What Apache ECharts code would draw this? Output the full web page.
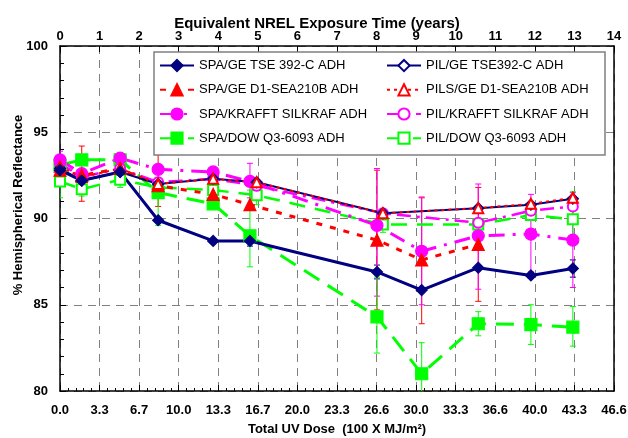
<!DOCTYPE html>
<html><head><meta charset="utf-8">
<script src="https://cdn.jsdelivr.net/npm/echarts@6/dist/echarts.min.js"></script>
<style>html,body{margin:0;padding:0;background:#fff}#c{width:628px;height:438px}</style>
</head><body><div id="c"></div>
<script>
// Exposure time in years (x positions)
const xSPA = [0, 0.55, 1.52, 2.48, 3.87, 4.80, 8.01, 9.14, 10.57, 11.90, 12.96];
const xPIL = [0, 0.55, 1.52, 2.48, 3.87, 4.97, 8.16, 10.57, 11.90, 12.96];
const topTickLabels = ['0','1','2','3','4','5','6','7','8','9','10','11','12','13','14'];
const bottomTickLabels = ['0.0','3.3','6.7','10.0','13.3','16.7','20.0','23.3','26.6','30.0','33.3','36.6','40.0','43.3','46.6'];

const spaGeTse  = [92.8, 92.2, 92.7, 89.9, 88.7, 88.7, 86.9, 85.85, 87.15, 86.7, 87.1];
const pilGeTse  = [92.9, 92.2, 92.7, 92.0, 92.3, 92.1, 90.3, 90.6, 90.8, 91.15];
const spaGeD1   = [92.8, 92.5, 92.9, 91.9, 91.4, 90.8, 88.75, 87.6, 88.5];
const pilsGeD1  = [93.0, 92.4, 92.9, 92.0, 92.3, 92.1, 90.3, 90.6, 90.85, 91.2];
const spaKrafft = [93.4, 92.6, 93.5, 92.85, 92.7, 92.15, 89.6, 88.1, 89.0, 89.1, 88.75];
const pilKrafft = [93.2, 92.4, 92.9, 92.1, 92.3, 91.9, 90.3, 89.75, 90.45, 90.7];
const spaDow    = [93.1, 93.4, 93.4, 91.5, 90.85, 89.0, 84.3, 81.0, 83.9, 83.85, 83.7];
const pilDow    = [92.15, 91.7, 92.25, 91.8, 91.65, 91.35, 89.65, 89.65, 90.2, 89.95];

// error bar low / high
const spaGeTseLo  = [null, null, null, null, null, 88.4, 86.5, null, null, null, 86.6];
const spaGeTseHi  = [null, null, null, null, null, 89.0, 87.3, null, null, null, 87.6];
const spaGeD1Lo   = [null, 91.0, null, 90.7, null, null, 84.7, 83.9, 85.2];
const spaGeD1Hi   = [null, 94.2, null, 93.7, null, null, 92.8, 91.2, 91.8];
const spaKrafftLo = [92.9, null, null, null, null, 91.2, 85.5, 85.0, 85.9, 86.9, 86.0];
const spaKrafftHi = [93.9, null, null, null, null, 93.2, 92.9, 91.25, 92.0, 91.4, 91.5];
const spaDowLo    = [null, null, null, 89.6, null, 87.2, 82.2, 78.5, 83.2, 82.7, 82.6];
const spaDowHi    = [null, null, null, 92.3, null, 91.65, 86.6, 82.8, 84.6, 85.0, 84.9];
const pilDowLo    = [91.2, 91.3, 91.8, null, null, 90.8, 89.2, null, null, 88.5];
const pilDowHi    = [92.8, 92.2, 92.7, null, null, 91.9, 90.2, null, null, 91.55];

const NAVY = '#000080', RED = '#ff0000', MAG = '#ff00ff', GRN = '#00ff00';
const FONT = 'Liberation Sans, Arial, sans-serif';

function pts(xs, ys) { return ys.map((v, i) => [xs[i], v]); }
function errs(xs, lo, hi) {
  const out = [];
  lo.forEach((l, i) => { if (l != null) out.push([xs[i], l, hi[i]]); });
  return out;
}
function errSeries(data, color) {
  return {
    type: 'custom', xAxisIndex: 0, yAxisIndex: 0, silent: true, clip: true, z: 1,
    data: data,
    renderItem: function (params, api) {
      const x = api.value(0), lo = api.value(1), hi = api.value(2);
      const a = api.coord([x, hi]), b = api.coord([x, lo]);
      const w = 3, st = { stroke: color, lineWidth: 1 };
      return { type: 'group', children: [
        { type: 'line', shape: { x1: a[0], y1: a[1], x2: b[0], y2: b[1] }, style: st },
        { type: 'line', shape: { x1: a[0] - w, y1: a[1], x2: a[0] + w, y2: a[1] }, style: st },
        { type: 'line', shape: { x1: b[0] - w, y1: b[1], x2: b[0] + w, y2: b[1] }, style: st }
      ]};
    }
  };
}
function lineSeries(name, data, color, width, dash, symbol, size) {
  return {
    name: name, type: 'line', data: data, xAxisIndex: 0, yAxisIndex: 0,
    symbol: symbol, symbolSize: size, showAllSymbol: true,
    lineStyle: { color: color, width: width, type: dash },
    itemStyle: { color: color, borderColor: color, borderWidth: 1.2 },
    emphasis: { disabled: true }, z: 3, animation: false
  };
}

const series = [
  errSeries(errs(xSPA, spaGeTseLo, spaGeTseHi), NAVY),
  errSeries(errs(xSPA, spaGeD1Lo, spaGeD1Hi), RED),
  errSeries(errs(xSPA, spaKrafftLo, spaKrafftHi), MAG),
  errSeries(errs(xSPA, spaDowLo, spaDowHi), GRN),
  errSeries(errs(xPIL, pilDowLo, pilDowHi), GRN),
  lineSeries('PIL/DOW Q3-6093 ADH', pts(xPIL, pilDow), GRN, 2.5, [16, 10], 'emptyRect', 10),
  lineSeries('SPA/DOW Q3-6093 ADH', pts(xSPA, spaDow), GRN, 3, [18, 10], 'rect', 12),
  lineSeries('PIL/KRAFFT SILKRAF ADH', pts(xPIL, pilKrafft), MAG, 2.5, [14, 6, 3, 6], 'emptyCircle', 10),
  lineSeries('SPA/KRAFFT SILKRAF ADH', pts(xSPA, spaKrafft), MAG, 3, [16, 8, 3, 8], 'circle', 12),
  lineSeries('SPA/GE D1-SEA210B ADH', pts(xSPA, spaGeD1), RED, 3, [6, 8], 'triangle', 12),
  lineSeries('PIL/GE TSE392-C ADH', pts(xPIL, pilGeTse), NAVY, 2, 'solid', 'emptyDiamond', 10),
  lineSeries('PILS/GE D1-SEA210B ADH', pts(xPIL, pilsGeD1), RED, 2, [3, 4], 'emptyTriangle', 10),
  lineSeries('SPA/GE TSE 392-C ADH', pts(xSPA, spaGeTse), NAVY, 3, 'solid', 'diamond', 11)
];

const legendCommon = {
  orient: 'vertical', itemWidth: 34, itemHeight: 14, itemGap: 11, z: 10,
  textStyle: { fontFamily: FONT, fontSize: 13, color: '#000' },
  selectedMode: false, padding: 0
};

const chart = echarts.init(document.getElementById('c'), null, { renderer: 'canvas' });
chart.setOption({
  animation: false,
  backgroundColor: '#fff',
  title: {
    text: 'Equivalent NREL Exposure Time (years)', left: 312, top: 11, textAlign: 'center',
    textStyle: { fontFamily: FONT, fontSize: 15, fontWeight: 'bold', color: '#000' }
  },
  grid: { left: 60, right: 14, top: 46, bottom: 47, containLabel: false, outerBoundsMode: 'none' },
  graphic: [{
    type: 'rect', z: 9, shape: { x: 154, y: 52, width: 451, height: 103 },
    style: { fill: '#fff', stroke: '#808080', lineWidth: 1.5 }
  }, {
    type: 'text', z: 9, x: 18, y: 205, rotation: Math.PI / 2,
    style: { text: '% Hemispherical Reflectance', fontFamily: FONT, fontSize: 13, fontWeight: 'bold',
      fill: '#000', align: 'center', verticalAlign: 'middle' }
  }],
  legend: [
    Object.assign({ left: 159, top: 59,
      data: ['SPA/GE TSE 392-C ADH', 'SPA/GE D1-SEA210B ADH', 'SPA/KRAFFT SILKRAF ADH', 'SPA/DOW Q3-6093 ADH'] }, legendCommon),
    Object.assign({ left: 386, top: 59,
      data: ['PIL/GE TSE392-C ADH', 'PILS/GE D1-SEA210B ADH', 'PIL/KRAFFT SILKRAF ADH', 'PIL/DOW Q3-6093 ADH'] }, legendCommon)
  ],
  xAxis: [{
    type: 'value', position: 'bottom', min: 0, max: 14, interval: 1,
    name: 'Total UV Dose  (100 X MJ/m²)', nameLocation: 'middle', nameGap: 32,
    nameTextStyle: { fontFamily: FONT, fontSize: 13, fontWeight: 'bold', color: '#000' },
    axisLine: { onZero: false, lineStyle: { color: '#000', width: 1.5 } },
    axisTick: { inside: true, length: 6, lineStyle: { color: '#000', width: 1 } },
    minorTick: { show: true, splitNumber: 5, length: 3, lineStyle: { color: '#000' } },
    axisLabel: { fontFamily: FONT, fontSize: 13, fontWeight: 'bold', color: '#000', margin: 13,
      formatter: v => bottomTickLabels[Math.round(v)] },
    splitLine: { show: true, lineStyle: { color: '#808080', type: [8, 6], width: 1 } }
  }, {
    type: 'value', position: 'top', min: 0, max: 14, interval: 1,
    axisLine: { onZero: false, lineStyle: { color: '#000', width: 1.5 } },
    axisTick: { inside: true, length: 6, lineStyle: { color: '#000', width: 1 } },
    axisLabel: { fontFamily: FONT, fontSize: 13, fontWeight: 'bold', color: '#000', margin: 3,
      formatter: v => topTickLabels[Math.round(v)] },
    splitLine: { show: false }
  }],
  yAxis: [{
    type: 'value', min: 80, max: 100, interval: 5,
    axisLine: { show: true, onZero: false, lineStyle: { color: '#000', width: 1.5 } },
    axisTick: { inside: true, length: 6, lineStyle: { color: '#000' } },
    minorTick: { show: true, splitNumber: 5, length: 4, lineStyle: { color: '#000' } },
    axisLabel: { fontFamily: FONT, fontSize: 13, fontWeight: 'bold', color: '#000', margin: 12 },
    splitLine: { show: true, lineStyle: { color: '#808080', type: [8, 6], width: 1 } }
  }, {
    type: 'value', min: 80, max: 100, position: 'right',
    axisLine: { show: true, onZero: false, lineStyle: { color: '#000', width: 1.5 } },
    axisTick: { show: false }, axisLabel: { show: false }, splitLine: { show: false }
  }],
  series: series
});
</script></body></html>
